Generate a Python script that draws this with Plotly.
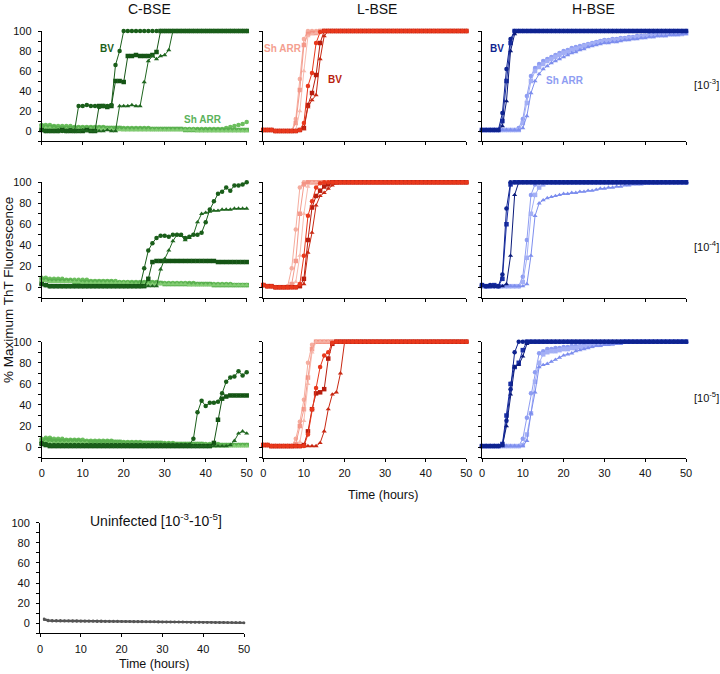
import plotly.graph_objects as go

# ---------------- data (t = 0..50 h, 1 h steps) ----------------
TIME = list(range(51))
X_TICKS = [0, 10, 20, 30, 40, 50]
Y_TICKS = [0, 20, 40, 60, 80, 100]
Y_MINOR = [-10, 10, 30, 50, 70, 90]
COL_TITLES = ['C-BSE', 'L-BSE', 'H-BSE']
ROW_LABELS = ['[10<sup>-3</sup>]', '[10<sup>-4</sup>]', '[10<sup>-5</sup>]']

# C-BSE, 10^-3
c1r1_bv1 = [1, 0, 0, 0, 0, 0, 0, 1, 0] + [25, 25, 26, 25, 25, 24, 25, 25, 26] + [66, 80] + [100] * 31
c1r1_bv2 = [1, 0, 0, 0, 0, 1, 0, 0, 0, 0, 0, 1, 0, 0] + [25, 25, 24, 25] + [50, 50, 49] + [75, 75, 76, 75, 75, 75, 76] + [79] + [100] * 22
c1r1_bv3 = [1, 0, 0, 0, 1, 0, 0, 0, 0, 0, 1, 0, 0, 0, 0, 0, 1, 0, 0] + [25, 25, 25, 26, 25, 25] + [49, 70] + [75, 72, 75, 76, 81] + [100] * 19
c1r1_sh1 = [6, 6, 6] + [5] * 5 + [4] * 8 + [3] * 11 + [2] * 18 + [3, 4, 5, 6, 7, 9]
c1r1_sh2 = [5, 4, 4, 4] + [3] * 16 + [2] * 15 + [1] * 16
c1r1_sh3 = [3] * 3 + [2] * 15 + [1] * 20 + [0] * 13

# C-BSE, 10^-4
c1r2_bv1 = [3, 2] + [1] * 23 + [18, 35, 42, 47, 49, 49, 48, 50, 50, 50, 47, 48, 50, 50, 52, 62, 74, 82, 89, 91, 95, 92, 97, 97, 98, 100]
c1r2_bv2 = [3, 2] + [1] * 24 + [8, 24] + [25] * 15 + [24] * 8
c1r2_bv3 = [3, 2] + [1] * 27 + [17, 27, 35, 44, 50, 49, 45, 47, 50, 62, 70, 71, 72, 73, 73, 74, 74, 74, 75, 75, 75, 75]
c1r2_sh1 = [9, 9] + [8] * 4 + [7] * 6 + [6] * 7 + [5] * 10 + [4] * 9 + [3] * 9 + [2] * 4
c1r2_sh2 = [7, 7] + [6] * 6 + [5] * 10 + [4] * 12 + [3] * 12 + [2] * 9
c1r2_sh3 = [6, 6] + [5] * 8 + [4] * 12 + [3] * 14 + [2] * 15

# C-BSE, 10^-5
c1r3_bv1 = [4, 3, 2] + [2] * 34 + [8, 33, 44, 39, 42, 42, 43, 51, 62, 66, 67, 72, 68, 71]
c1r3_bv2 = [3, 2, 1] + [1] * 39 + [4, 26, 46] + [48, 49, 49, 49, 49, 49]
c1r3_bv3 = [3, 2] + [1] * 44 + [2, 6, 13, 15, 13]
c1r3_sh1 = [8, 9, 9] + [8] * 3 + [7] * 5 + [6] * 7 + [5] * 7 + [4] * 8 + [3] * 11 + [2] * 7
c1r3_sh2 = [6, 7, 7] + [6] * 7 + [5] * 10 + [4] * 10 + [3] * 10 + [2] * 11
c1r3_sh3 = [5, 5] + [4] * 10 + [3] * 15 + [2] * 14 + [1] * 10

# L-BSE, 10^-3
c2r1_sh1 = [1, 1, 1, 0, 0, 0, 0, 0] + [12, 52, 92] + [100] * 40
c2r1_sh2 = [1, 1, 1, 0, 0, 0, 0, 0] + [8, 41, 86, 97] + [98, 98] + [100] * 37
c2r1_sh3 = [1, 1, 1, 0, 0, 0, 0, 0, 1] + [20, 60, 95, 97, 98] + [100] * 37
c2r1_bv1 = [1, 1, 1, 0, 0, 0, 0, 0, 0, 1] + [8, 45, 58, 88, 99] + [100] * 36
c2r1_bv2 = [1, 1, 1, 0, 0, 0, 0, 0, 0, 1] + [3, 26, 38, 56, 88] + [100] * 36
c2r1_bv3 = [1, 1, 1, 0, 0, 0, 0, 0, 0, 1] + [2, 24, 31, 36, 72, 95] + [100] * 35

# L-BSE, 10^-4
c2r2_sh1 = [2, 1, 1, 0, 0, 0, 1] + [18, 55, 95] + [100] * 41
c2r2_sh2 = [2, 1, 1, 0, 0, 0, 0] + [3, 25, 70, 98] + [100] * 40
c2r2_sh3 = [2, 1, 1, 0, 0, 0, 0, 0] + [5, 30, 70, 96] + [100] * 39
c2r2_bv1 = [2, 1, 1, 0, 0, 0, 0, 0, 0] + [3, 30, 68, 82, 95, 99] + [100] * 36
c2r2_bv2 = [2, 1, 1, 0, 0, 0, 0, 0, 0, 1] + [8, 45, 76, 87, 92, 96, 98] + [100] * 34
c2r2_bv3 = [2, 1, 1, 0, 0, 0, 0, 0, 0, 1] + [3, 33, 52, 78, 87, 90, 94, 97, 99] + [100] * 32

# L-BSE, 10^-5
c2r3_sh1 = [2, 2, 1, 1, 1, 1, 1, 1] + [8, 24, 45, 80, 97] + [100] * 38
c2r3_sh2 = [2, 2, 1, 1, 1, 1, 1, 1] + [3, 20, 36, 66, 93] + [100] * 38
c2r3_sh3 = [2, 2, 1, 1, 1, 1, 1, 1, 1] + [5, 25, 60, 90] + [100] * 38
c2r3_bv1 = [2, 2, 1, 1, 1, 1, 1, 1, 1, 1, 1] + [12, 36, 56, 76, 87, 90, 99] + [100] * 33
c2r3_bv2 = [2, 2, 1, 1, 1, 1, 1, 1, 1, 1, 2] + [15, 36, 51, 52, 55, 84, 98] + [100] * 33
c2r3_bv3 = [2, 2] + [1] * 12 + [4, 15, 36, 50, 52, 70, 99] + [100] * 30

# H-BSE, 10^-3
c3r1_bv1 = [1] * 5 + [18, 62, 92] + [100] * 43
c3r1_bv2 = [1] * 5 + [10, 50, 88] + [100] * 43
c3r1_bv3 = [1] * 5 + [5, 30, 80, 97] + [100] * 42
c3r1_sh1 = [1] * 9 + [3, 12, 35, 55, 63, 67, 70, 72, 74, 76, 78, 80, 81, 83, 84, 85, 86, 87, 88, 89, 90,
                      91, 91, 92, 92, 93, 93, 94, 94, 95, 95, 95, 96, 96, 96, 97, 97, 97, 97, 98, 98, 98]
c3r1_sh2 = [1] * 9 + [1, 8, 28, 50, 60, 64, 67, 70, 72, 74, 76, 78, 79, 81, 82, 83, 85, 86, 87, 88, 89,
                      90, 90, 91, 91, 92, 92, 93, 93, 94, 94, 95, 95, 95, 96, 96, 96, 97, 97, 97, 97, 98]
c3r1_sh3 = [1] * 10 + [3, 15, 38, 50, 57, 62, 65, 68, 70, 72, 74, 76, 78, 79, 81, 82, 84, 85, 86, 87,
                       88, 88, 89, 89, 90, 91, 91, 92, 92, 93, 93, 94, 94, 95, 95, 95, 96, 96, 96, 97, 97]

# H-BSE, 10^-4
c3r2_bv1 = [2, 1, 2, 1, 1] + [12, 75] + [100] * 44
c3r2_bv2 = [2, 1, 1, 2, 1] + [8, 60, 98] + [100] * 43
c3r2_bv3 = [2, 1, 1, 1, 1, 1] + [3, 30, 88] + [100] * 42
c3r2_sh1 = [1] * 9 + [1, 10, 45, 88, 98] + [100] * 37
c3r2_sh2 = [1] * 10 + [5, 28, 70, 88, 95, 98] + [100] * 35
c3r2_sh3 = [1] * 10 + [1, 3, 30, 68, 80, 83, 85, 86, 87, 88, 89, 89, 90, 90, 91, 91, 92, 92, 93, 94,
                       94, 95, 95, 96, 96, 97, 97, 98, 98, 98, 99, 99, 99, 99, 100, 100, 100, 100, 100, 100, 100]

# H-BSE, 10^-5
c3r3_bv1 = [1] * 5 + [2, 25, 55, 90] + [100] * 42
c3r3_bv2 = [1] * 5 + [3, 30, 60, 76, 80, 92] + [100] * 40
c3r3_bv3 = [1] * 6 + [20, 50, 76, 78, 86, 98] + [100] * 39
c3r3_sh1 = [1] * 10 + [8, 28, 51, 71, 89, 91, 93, 93, 94, 94, 95, 95, 96, 96, 96, 97, 97, 97, 98, 98,
                       98, 99, 99, 99, 99] + [100] * 16
c3r3_sh2 = [1] * 10 + [2, 12, 32, 62, 80, 88, 90, 91, 91, 92, 93, 93, 94, 94, 95, 95, 96, 96, 97, 97,
                       98, 98, 98, 99, 99] + [100] * 16
c3r3_sh3 = [1] * 10 + [1, 6, 32, 52, 76, 78, 79, 81, 83, 85, 87, 88, 89, 91, 92, 93, 94, 95, 96, 96,
                       97, 97, 98, 98, 98] + [99] * 5 + [100] * 11

# Uninfected
unin1 = [None, 4.5, 3.2, 3.0, 2.9, 2.9, 2.8, 2.8, 2.7, 2.7, 2.6, 2.6, 2.5, 2.5, 2.4, 2.4, 2.3, 2.3,
         2.2, 2.2, 2.1, 2.1, 2.0, 2.0, 1.9, 1.9, 1.8, 1.8, 1.7, 1.7, 1.6, 1.6, 1.5, 1.5, 1.4, 1.4,
         1.3, 1.3, 1.2, 1.2, 1.1, 1.1, 1.0, 1.0, 0.9, 0.9, 0.8, 0.8, 0.7, 0.7, 0.6]
unin2 = [None, 3.5, 2.2, 2.0, 2.0, 1.9, 1.9, 1.9, 1.8, 1.8, 1.8, 1.7, 1.7, 1.7, 1.6, 1.6, 1.6, 1.5,
         1.5, 1.5, 1.4, 1.4, 1.4, 1.3, 1.3, 1.3, 1.2, 1.2, 1.2, 1.1, 1.1, 1.0, 1.0, 1.0, 0.9, 0.9,
         0.9, 0.8, 0.8, 0.8, 0.7, 0.7, 0.7, 0.6, 0.6, 0.5, 0.5, 0.5, 0.4, 0.4, 0.3]

# ---------------- styles ----------------
FONT = 'Arial, Liberation Sans, sans-serif'
GREEN_DARK = ['#1a5e1a', '#145414', '#1f661f']
GREEN_LIGHT = ['#6cbf5e', '#5ab04f', '#82cc72']
RED_BV = ['#e8381c', '#b81d0e', '#c82812']
PINK = ['#f5a595', '#f39080', '#f7b5a8']
NAVY = ['#0e2390', '#1a2fa5', '#0a1a7a']
LBLUE = ['#8e9df2', '#a3aff5', '#7d8eee']
GRAY = '#555555'
SYMBOLS = ['circle', 'square', 'triangle-up']

fig = go.Figure()


def ax(i, kind):
    return kind if i == 1 else f'{kind}{i}'


def add(panel, y, color, symbol, size=4.5, width=1.0, opacity=1.0):
    fig.add_trace(go.Scatter(
        x=TIME[:len(y)], y=y, mode='lines+markers',
        line=dict(color=color, width=width),
        marker=dict(symbol=symbol, size=size, color=color, line=dict(width=0)),
        opacity=opacity, cliponaxis=False, showlegend=False, hoverinfo='skip',
        xaxis=ax(panel, 'x'), yaxis=ax(panel, 'y')))


panels = {
    1: (c1r1_sh1, c1r1_sh2, c1r1_sh3, c1r1_bv1, c1r1_bv2, c1r1_bv3),
    4: (c1r2_sh1, c1r2_sh2, c1r2_sh3, c1r2_bv1, c1r2_bv2, c1r2_bv3),
    7: (c1r3_sh1, c1r3_sh2, c1r3_sh3, c1r3_bv1, c1r3_bv2, c1r3_bv3),
    2: (c2r1_sh1, c2r1_sh2, c2r1_sh3, c2r1_bv1, c2r1_bv2, c2r1_bv3),
    5: (c2r2_sh1, c2r2_sh2, c2r2_sh3, c2r2_bv1, c2r2_bv2, c2r2_bv3),
    8: (c2r3_sh1, c2r3_sh2, c2r3_sh3, c2r3_bv1, c2r3_bv2, c2r3_bv3),
    3: (c3r1_sh1, c3r1_sh2, c3r1_sh3, c3r1_bv1, c3r1_bv2, c3r1_bv3),
    6: (c3r2_sh1, c3r2_sh2, c3r2_sh3, c3r2_bv1, c3r2_bv2, c3r2_bv3),
    9: (c3r3_sh1, c3r3_sh2, c3r3_sh3, c3r3_bv1, c3r3_bv2, c3r3_bv3),
}
for p, series in panels.items():
    col = (p - 1) % 3
    sh, bv = series[:3], series[3:]
    if col == 0:
        shc, bvc, sh_op = GREEN_LIGHT, GREEN_DARK, 1.0
    elif col == 1:
        shc, bvc, sh_op = PINK, RED_BV, 0.9
    else:
        shc, bvc, sh_op = LBLUE, NAVY, 1.0
    for k in range(3):
        add(p, sh[k], shc[k], SYMBOLS[k], opacity=sh_op)
    # draw the brightest BV series last
    for k in (1, 2, 0):
        add(p, bv[k], bvc[k], SYMBOLS[k])

add(10, unin1, GRAY, 'circle', size=2.5, width=1.6)
add(10, unin2, GRAY, 'circle', size=2.5, width=1.6)

# ---------------- layout ----------------
W, H = 720, 674
COL_PX = [(41.7, 246.7), (263.3, 466.3), (482.0, 686.0)]
ROW_PX = [(31.0, 141.0), (182.3, 297.7), (341.7, 457.7), (522.7, 633.3)]


def xd(a, b):
    return [a / W, b / W]


def yd(top, bottom):
    return [1 - bottom / H, 1 - top / H]


layout = dict(width=W, height=H, margin=dict(l=0, r=0, t=0, b=0, pad=0),
              paper_bgcolor='white', plot_bgcolor='white',
              font=dict(family=FONT, size=11, color='#111111'))

for p in range(1, 11):
    if p <= 9:
        r, c = (p - 1) // 3, (p - 1) % 3
        xdom = xd(*COL_PX[c])
    else:
        r, c = 3, 0
        xdom = xd(40.0, 244.0)
    ydom = yd(*ROW_PX[r])
    layout['xaxis' if p == 1 else f'xaxis{p}'] = dict(
        domain=xdom, anchor=ax(p, 'y'), range=[0, 50],
        showline=True, linecolor='black', linewidth=1,
        ticks='outside', ticklen=3, tickcolor='black', tickwidth=1,
        tickvals=X_TICKS, showticklabels=(r >= 2), ticklabelstandoff=2,
        showgrid=False, zeroline=False, fixedrange=True, automargin=False,
        tickfont=dict(size=11, family=FONT, color='#111111'))
    layout['yaxis' if p == 1 else f'yaxis{p}'] = dict(
        domain=ydom, anchor=ax(p, 'x'), range=[-10, 100],
        showline=True, linecolor='black', linewidth=1,
        ticks='outside', ticklen=3, tickcolor='black', tickwidth=1,
        tickvals=Y_TICKS, showticklabels=(c == 0), ticklabelstandoff=4,
        minor=dict(tickvals=Y_MINOR, ticks='outside', ticklen=3,
                   tickcolor='black', tickwidth=1, showgrid=False),
        showgrid=False, zeroline=False, fixedrange=True, automargin=False,
        tickfont=dict(size=11, family=FONT, color='#111111'))

ann = []


def text(x, y, s, size=11, color='#111111', bold=False, xanchor='center', angle=0):
    if bold:
        s = f'<b>{s}</b>'
    ann.append(dict(x=x / W, y=1 - y / H, xref='paper', yref='paper', text=s,
                    showarrow=False, xanchor=xanchor, yanchor='middle', textangle=angle,
                    font=dict(family=FONT, size=size, color=color)))


for title, cx in zip(COL_TITLES, [149, 376.5, 593.5]):
    text(cx, 9, title, size=14)
for lab, cy in zip(ROW_LABELS, [84, 246, 397]):
    text(692, cy, lab, size=11, xanchor='left')

text(107, 48, 'BV', size=10, color='#1a5e1a', bold=True)
text(203, 119, 'Sh ARR', size=10, color='#5cb35c', bold=True)
text(283, 48, 'Sh ARR', size=10, color='#f4a090', bold=True)
text(334.5, 79, 'BV', size=10, color='#b81d0e', bold=True)
text(496.5, 48, 'BV', size=10, color='#0e2390', bold=True)
text(565, 80, 'Sh ARR', size=10, color='#8e9df2', bold=True)

text(383, 495, 'Time (hours)', size=12.5)
text(154, 664, 'Time (hours)', size=12.5)
text(155.5, 520, 'Uninfected [10<sup>-3</sup>-10<sup>-5</sup>]', size=14)
text(8, 290, '% Maximum ThT Fluorescence', size=13.5, angle=-90)

layout['annotations'] = ann
fig.update_layout(**layout)
fig.write_html('out.html', config={'displayModeBar': False},
               post_script="document.body.style.margin='0';document.body.style.padding='0';")
